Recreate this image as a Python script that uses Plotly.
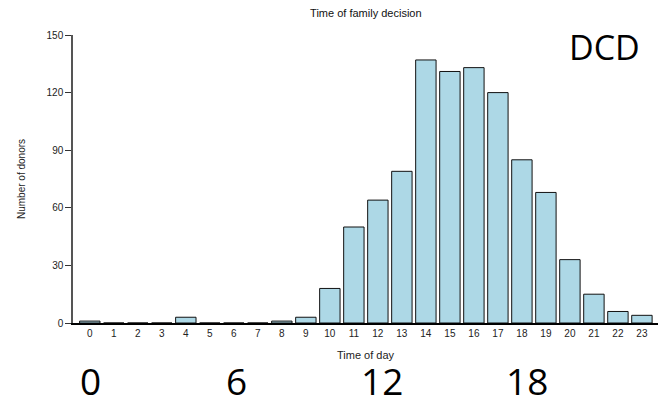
import plotly.graph_objects as go

hours = list(range(24))
donors = [1, 0, 0, 0, 3, 0, 0, 0, 1, 3, 18, 50, 64, 79, 137, 131, 133, 120, 85, 68, 33, 15, 6, 4]
y_ticks = [0, 30, 60, 90, 120, 150]
big_hours = [0, 6, 12, 18]

fig = go.Figure()
fig.add_trace(go.Bar(
    x=hours, y=donors, width=0.85,
    marker=dict(color="#ADD8E6", line=dict(color="#111111", width=1)),
))

for h in big_hours:
    fig.add_annotation(x=h, y=0, xref="x", yref="paper", yshift=-57, xshift=h * 0.25 + 1,
                       text=str(h), showarrow=False, yanchor="middle",
                       font=dict(family="Open Sans, Noto Sans", size=37, color="black"))

fig.add_annotation(x=1.0, y=1.0, xref="paper", yref="paper", xanchor="right", yanchor="middle",
                   xshift=-16, yshift=-12, text="DCD", showarrow=False,
                   font=dict(family="Open Sans, Noto Sans", size=34, color="black"))

fig.update_layout(
    width=658, height=404,
    margin=dict(l=73, r=0, t=35, b=81, autoexpand=False),
    paper_bgcolor="white", plot_bgcolor="white",
    showlegend=False,
    title=dict(text="Time of family decision", x=0.556, xanchor="center", y=0.968, yanchor="middle",
               font=dict(family="Liberation Sans, Arial", size=11, color="#111")),
    font=dict(family="Liberation Sans, Arial", size=10, color="#222"),
)
fig.update_xaxes(
    range=[-0.7, 23.67], tickvals=hours, ticktext=[str(h) for h in hours],
    showline=True, linecolor="black", linewidth=1.5, ticks="", showgrid=False, zeroline=False,
    tickfont=dict(size=10, color="#222"), automargin=False,
    title=dict(text="Time of day", font=dict(size=11, color="#222"), standoff=14),
)
fig.update_yaxes(
    range=[0, 150], tickvals=y_ticks, showline=True, linecolor="#555", linewidth=1.5,
    ticks="outside", ticklen=6, tickcolor="#333", tickwidth=1,
    showgrid=False, zeroline=False, automargin=False,
    tickfont=dict(size=10, color="#222"),
    title=dict(text="Number of donors", font=dict(size=10, color="#222"), standoff=19),
)

fig.write_html("out.html", config={"displayModeBar": False},
               post_script="document.body.style.margin='0px';document.body.style.overflow='hidden';")
